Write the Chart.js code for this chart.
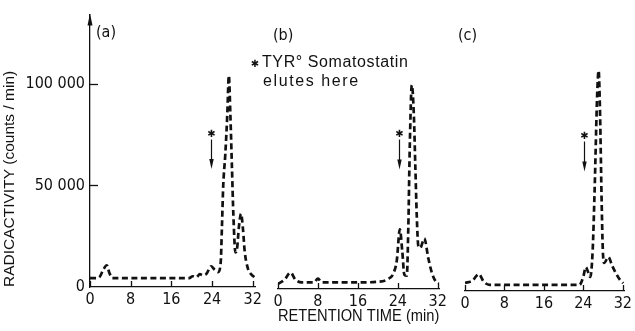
<!DOCTYPE html>
<html>
<head>
<meta charset="utf-8">
<script src="https://cdn.jsdelivr.net/npm/chart.js@4.4.1/dist/chart.umd.min.js"></script>
<style>
  body { margin: 0; background: #fff; width: 635px; height: 331px; position: relative; overflow: hidden; }
  canvas { position: absolute; top: 0; }
  #panel-a { left: 0; }
  #panel-b { left: 240px; }
  #panel-c { left: 430px; }
</style>
</head>
<body>
<canvas id="panel-a" width="265" height="331"></canvas>
<canvas id="panel-b" width="210" height="331"></canvas>
<canvas id="panel-c" width="205" height="331"></canvas>
<script>
// retention time (min) and radioactivity (counts / min) for the three runs
const aTimes = [0, 1.2, 1.9, 2.6, 3.3, 3.8, 4.4, 8, 16, 19.5, 20.2, 20.9, 21.6, 22.2, 22.9, 23.8, 24.5, 25.2, 25.7, 25.95, 26.2, 26.6, 27.0, 27.3, 27.6, 27.9, 28.2, 28.6, 28.9, 29.3, 29.7, 30.1, 30.4, 31.0, 31.6, 32.4];
const aCounts = [4400, 4400, 5000, 8500, 10700, 7000, 4400, 4400, 4400, 4400, 5300, 4800, 6300, 5800, 6500, 10200, 8500, 7300, 12000, 30000, 50000, 65000, 85000, 104000, 85000, 60000, 35000, 17000, 18500, 30000, 36000, 28000, 18000, 9500, 6500, 4800];

const bTimes = [0, 1.3, 2.5, 3.5, 4.8, 7.2, 8, 8.8, 16, 20, 22, 23.2, 23.8, 24.4, 24.9, 25.3, 25.8, 26.1, 26.4, 26.8, 27.2, 27.5, 27.8, 28.1, 28.5, 29.3, 30.1, 30.8, 31.5, 32.2];
const bCounts = [2500, 4500, 8000, 4500, 3200, 3200, 5000, 3200, 3200, 3500, 4800, 8000, 14000, 29000, 18000, 7000, 6500, 30000, 70000, 99000, 85000, 60000, 35000, 21000, 20000, 24500, 15000, 8000, 4000, 2800];

const cTimes = [0, 1.5, 2.8, 3.8, 5, 16, 23.2, 24.0, 24.5, 25.0, 25.4, 25.9, 26.3, 26.8, 27.1, 27.4, 27.7, 27.95, 28.2, 29.1, 29.8, 30.6, 31.4, 32.1];
const cCounts = [3900, 5000, 8200, 4500, 3000, 3000, 3000, 7000, 11600, 9000, 6800, 20000, 50000, 95000, 107000, 85000, 45000, 20000, 13600, 16500, 12500, 8700, 5500, 3800];

const timeTicks = [0, 8, 16, 24, 32];
const countTicks = [0, 50000, 100000];
const panelLabels = ['(a)', '(b)', '(c)'];
// where TYR° somatostatin elutes (min)
const markerTimes = [23.8, 24.3, 24.1];
const noteLines = ['TYR\u00b0 Somatostatin', 'elutes here'];

const INK = '#111';
const NARROW = "'Liberation Sans Narrow', 'DejaVu Sans Condensed', 'Liberation Sans', sans-serif";
const SANS = "'Liberation Sans', Arial, sans-serif";
const STAR = '\u2731';

function toPoints(times, counts) {
  return times.map((t, i) => ({ x: t, y: counts[i] }));
}

function line(ctx, x1, y1, x2, y2) {
  ctx.beginPath();
  ctx.moveTo(x1, y1);
  ctx.lineTo(x2, y2);
  ctx.stroke();
}

// ticks pointing into the plot, panel letter, elution marker
const panelDecor = {
  id: 'panelDecor',
  afterDraw(chart, args, opts) {
    const { ctx, chartArea } = chart;
    const xs = chart.scales.x;
    const ys = chart.scales.y;
    ctx.save();
    ctx.strokeStyle = INK;
    ctx.fillStyle = INK;
    ctx.lineWidth = 1.3;

    timeTicks.forEach(t => {
      const px = Math.round(xs.getPixelForValue(t)) + 0.5;
      line(ctx, px, chartArea.bottom, px, chartArea.bottom - 6);
    });

    if (opts.yAxis) {
      countTicks.slice(1).forEach(v => {
        const py = Math.round(ys.getPixelForValue(v)) + 0.5;
        line(ctx, chartArea.left, py, chartArea.left + 8, py);
      });
      ctx.beginPath();
      ctx.moveTo(chartArea.left, chartArea.top - 1);
      ctx.lineTo(chartArea.left - 2.5, chartArea.top + 11);
      ctx.lineTo(chartArea.left + 2.5, chartArea.top + 11);
      ctx.closePath();
      ctx.fill();
    }

    ctx.font = '16px ' + NARROW;
    ctx.textBaseline = 'middle';
    ctx.textAlign = 'left';
    ctx.fillText(opts.label, opts.labelX, opts.labelY);

    // star + down arrow
    const mx = Math.round(xs.getPixelForValue(opts.markerTime)) + 0.5;
    const sy = ys.getPixelForValue(75000);
    const ay = ys.getPixelForValue(58000);
    ctx.font = "10px 'DejaVu Sans'";
    ctx.textAlign = 'center';
    ctx.fillText(STAR, mx, sy);
    ctx.lineWidth = 1.2;
    line(ctx, mx, sy + 5, mx, ay - 6);
    ctx.beginPath();
    ctx.moveTo(mx, ay);
    ctx.lineTo(mx - 2.2, ay - 10);
    ctx.lineTo(mx + 2.2, ay - 10);
    ctx.closePath();
    ctx.fill();

    if (opts.note) {
      ctx.fillText(STAR, opts.note.x - 7, opts.note.y + 1);
      ctx.font = '16px ' + SANS;
      ctx.textAlign = 'left';
      ctx.letterSpacing = '0.6px';
      ctx.fillText(noteLines[0], opts.note.x, opts.note.y);
      ctx.letterSpacing = '1.6px';
      ctx.fillText(noteLines[1], opts.note.x + 1, opts.note.y + 19);
    }
    ctx.restore();
  }
};

function makePanel(id, idx, times, counts, cfg) {
  const ctx = document.getElementById(id).getContext('2d');
  return new Chart(ctx, {
    type: 'line',
    data: {
      datasets: [{
        data: toPoints(times, counts),
        borderColor: INK,
        borderWidth: 2.7,
        borderDash: [6, 3.5],
        pointRadius: 0,
        cubicInterpolationMode: 'monotone',
        fill: false
      }]
    },
    options: {
      responsive: false,
      animation: false,
      events: [],
      layout: { padding: cfg.padding },
      plugins: {
        legend: { display: false },
        tooltip: { enabled: false },
        panelDecor: {
          label: panelLabels[idx],
          labelX: cfg.labelX,
          labelY: cfg.labelY,
          yAxis: cfg.yAxis,
          markerTime: markerTimes[idx],
          note: cfg.note
        }
      },
      scales: {
        x: {
          type: 'linear',
          min: 0,
          max: cfg.xMax,
          afterBuildTicks: s => { s.ticks = timeTicks.map(v => ({ value: v })); },
          afterFit: s => { s.height = cfg.xHeight; },
          border: { display: true, color: INK, width: 1.3 },
          grid: { display: true, drawOnChartArea: false, drawTicks: false },
          ticks: { color: INK, padding: 3, maxRotation: 0, font: { family: NARROW, size: 16 } },
          title: cfg.xTitle ? {
            display: true,
            text: 'RETENTION TIME (min)',
            color: INK,
            padding: { top: 0, bottom: 4 },
            font: { family: SANS, size: 17 }
          } : { display: false }
        },
        y: {
          display: cfg.yAxis,
          min: 0,
          max: 134000,
          afterBuildTicks: s => { s.ticks = countTicks.map(v => ({ value: v })); },
          afterFit: s => { s.width = cfg.yAxis ? 90 : 0; },
          border: { display: true, color: INK, width: 1.3 },
          grid: { display: true, drawOnChartArea: false, drawTicks: false },
          ticks: {
            color: INK,
            padding: 5,
            font: { family: NARROW, size: 16 },
            callback: v => v === 0 ? '0' : (v / 1000) + ' 000'
          },
          title: {
            display: true,
            text: 'RADICACTIVITY (counts / min)',
            align: 'start',
            color: INK,
            padding: { top: 0, bottom: 0 },
            font: { family: SANS, size: 15.5 }
          }
        }
      }
    },
    plugins: [panelDecor]
  });
}

makePanel('panel-a', 0, aTimes, aCounts, {
  padding: { top: 11, right: 7.3, bottom: 0, left: 0 },
  xMax: 32.5, xHeight: 44, yAxis: true,
  labelX: 96, labelY: 33
});
makePanel('panel-b', 1, bTimes, bCounts, {
  padding: { top: 13, right: 7.5, bottom: 0, left: 38 },
  xMax: 32.3, xHeight: 42, yAxis: false, xTitle: true,
  labelX: 33, labelY: 36,
  note: { x: 22, y: 63 }
});
makePanel('panel-c', 2, cTimes, cCounts, {
  padding: { top: 15, right: 6.5, bottom: 0, left: 35 },
  xMax: 32.3, xHeight: 40, yAxis: false,
  labelX: 28, labelY: 36
});
</script>
</body>
</html>
